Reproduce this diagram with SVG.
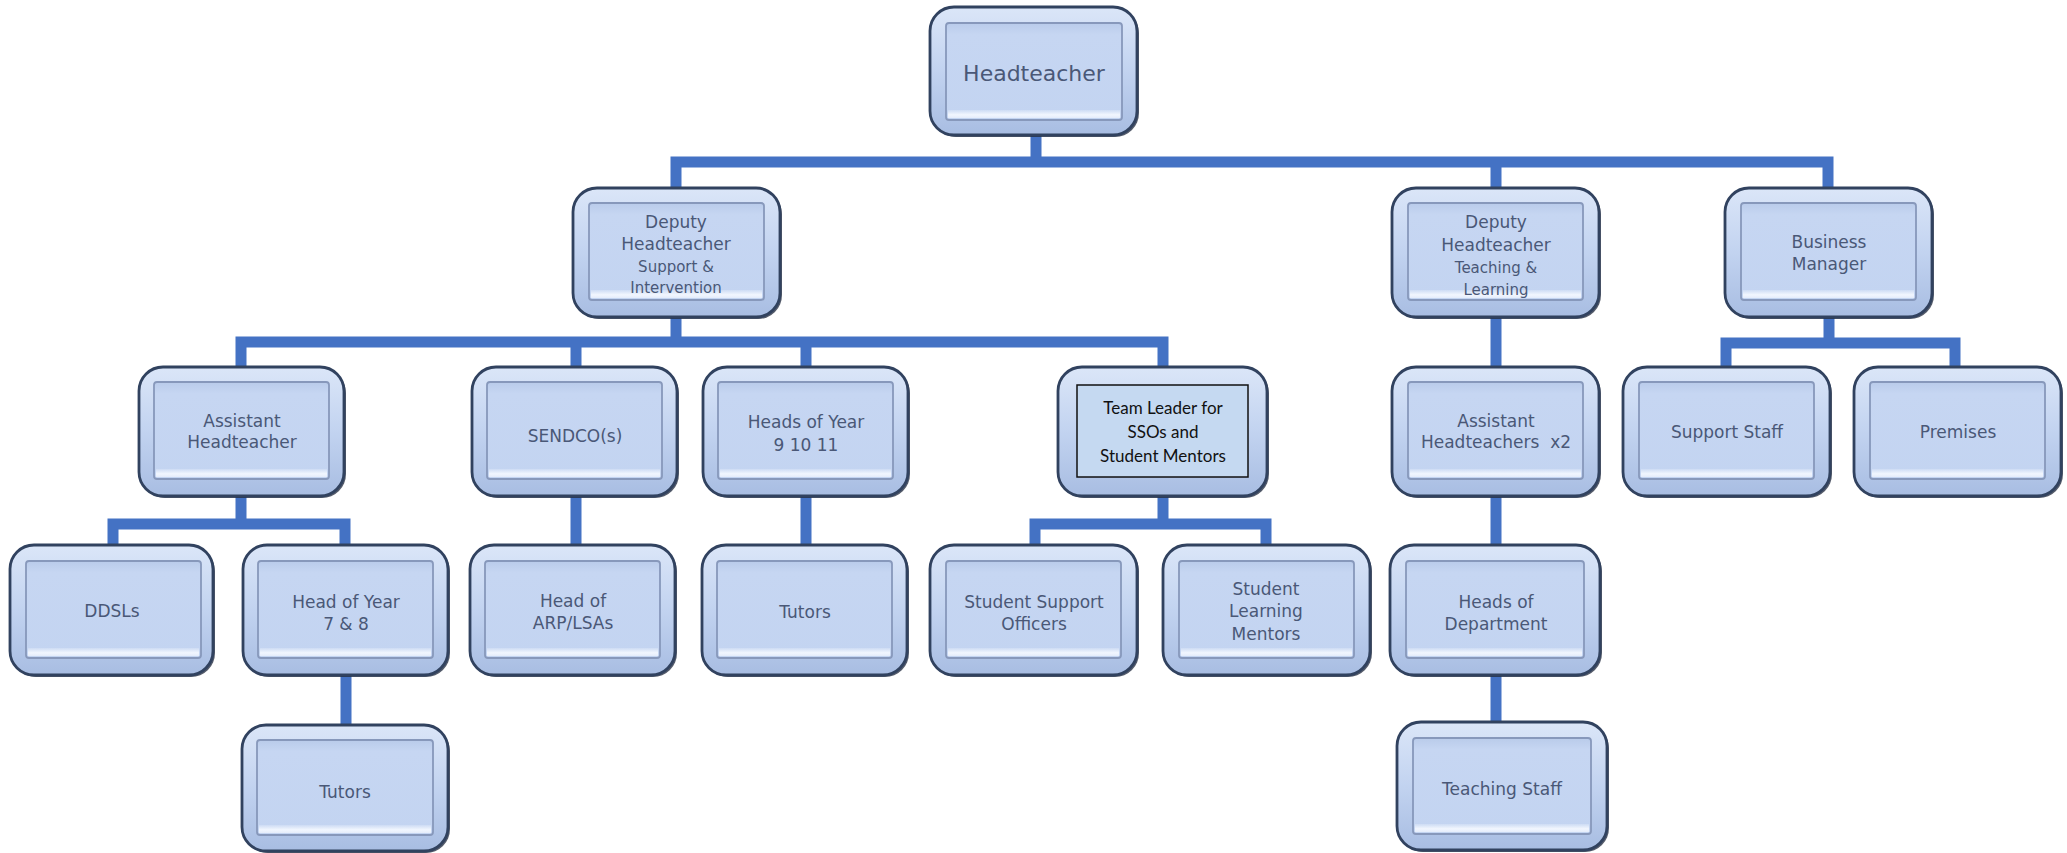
<svg xmlns="http://www.w3.org/2000/svg" width="2067" height="853" viewBox="0 0 2067 853">
<defs>
<linearGradient id="og" x1="0" y1="0" x2="0" y2="1">
<stop offset="0" stop-color="#dbe6f8"/>
<stop offset="0.5" stop-color="#c2d3f0"/>
<stop offset="1" stop-color="#a8bde2"/>
</linearGradient>
<linearGradient id="ig" x1="0" y1="0" x2="0" y2="1">
<stop offset="0" stop-color="#b9cbea"/>
<stop offset="0.12" stop-color="#c6d6f2"/>
<stop offset="1" stop-color="#c3d4f1"/>
</linearGradient>
<linearGradient id="hg" x1="0" y1="0" x2="0" y2="1">
<stop offset="0" stop-color="#f4f8ff" stop-opacity="0.2"/>
<stop offset="0.6" stop-color="#f4f8ff" stop-opacity="0.95"/>
<stop offset="1" stop-color="#e8effc" stop-opacity="0.9"/>
</linearGradient>
</defs>
<style>
.sh{fill:#1b2438;opacity:0.75}
.o{fill:url(#og);stroke:#31425f;stroke-width:2.8}
.i{fill:url(#ig);stroke:#8798bb;stroke-width:1.8}
.hl{fill:url(#hg)}
.t{font-family:"DejaVu Sans",Verdana,sans-serif;font-size:17px;fill:#4a5877;text-anchor:middle}
.s{font-size:15px}
.big{font-size:22px}
.c{fill:none;stroke:#4472c4;stroke-width:11;stroke-linecap:square;stroke-linejoin:miter}
.tl{font-family:Lato,"Liberation Sans",sans-serif;font-size:17px;fill:#111;text-anchor:middle}
</style>
<rect width="2067" height="853" fill="#ffffff"/>
<g id="connectors">
<path class="c" d="M1036 135 V162 M676 188 V162 H1828 V188 M1496 162 V188"/>
<path class="c" d="M676 317 V342 M241 367 V342 H1163 V367 M576 342 V367 M806 342 V367"/>
<path class="c" d="M1496 317 V367 M1496 497 V545 M1496 675 V722"/>
<path class="c" d="M1829 317 V343 M1726 367 V343 H1955 V367"/>
<path class="c" d="M241 497 V524 M113 545 V524 H345 V545 M346 675 V725"/>
<path class="c" d="M576 497 V545 M806 497 V545"/>
<path class="c" d="M1163 497 V524 M1035 545 V524 H1266 V545"/>
</g>
<g id="headteacher">
<rect class="sh" x="932" y="9" width="207" height="128" rx="24"/>
<rect class="o" x="930" y="7" width="207" height="128" rx="24"/>
<rect class="i" x="946" y="23" width="176" height="97" rx="3"/>
<rect class="hl" x="948" y="110" width="172" height="8"/>
<text class="t big" x="1034" y="81">Headteacher</text>
</g>
<g id="deputy-si">
<rect class="sh" x="575" y="190" width="207" height="129" rx="24"/>
<rect class="o" x="573" y="188" width="207" height="129" rx="24"/>
<rect class="i" x="589" y="203" width="175" height="97" rx="3"/>
<rect class="hl" x="591" y="290" width="171" height="8"/>
<text class="t" x="676" y="228">Deputy</text>
<text class="t" x="676" y="250">Headteacher</text>
<text class="t s" x="676" y="272">Support &amp;</text>
<text class="t s" x="676" y="293">Intervention</text>
</g>
<g id="deputy-tl">
<rect class="sh" x="1394" y="190" width="207" height="129" rx="24"/>
<rect class="o" x="1392" y="188" width="207" height="129" rx="24"/>
<rect class="i" x="1408" y="203" width="175" height="97" rx="3"/>
<rect class="hl" x="1410" y="290" width="171" height="8"/>
<text class="t" x="1496" y="228">Deputy</text>
<text class="t" x="1496" y="251">Headteacher</text>
<text class="t s" x="1496" y="273">Teaching &amp;</text>
<text class="t s" x="1496" y="295">Learning</text>
</g>
<g id="business-manager">
<rect class="sh" x="1727" y="190" width="207" height="129" rx="24"/>
<rect class="o" x="1725" y="188" width="207" height="129" rx="24"/>
<rect class="i" x="1741" y="203" width="175" height="97" rx="3"/>
<rect class="hl" x="1743" y="290" width="171" height="8"/>
<text class="t" x="1829" y="248">Business</text>
<text class="t" x="1829" y="270">Manager</text>
</g>
<g id="assistant-head">
<rect class="sh" x="141" y="369" width="205" height="129" rx="24"/>
<rect class="o" x="139" y="367" width="205" height="129" rx="24"/>
<rect class="i" x="154" y="382" width="175" height="97" rx="3"/>
<rect class="hl" x="156" y="469" width="171" height="8"/>
<text class="t" x="242" y="427">Assistant</text>
<text class="t" x="242" y="448">Headteacher</text>
</g>
<g id="sendco">
<rect class="sh" x="474" y="369" width="205" height="129" rx="24"/>
<rect class="o" x="472" y="367" width="205" height="129" rx="24"/>
<rect class="i" x="487" y="382" width="175" height="97" rx="3"/>
<rect class="hl" x="489" y="469" width="171" height="8"/>
<text class="t" x="575" y="442">SENDCO(s)</text>
</g>
<g id="heads-of-year-9-11">
<rect class="sh" x="705" y="369" width="205" height="129" rx="24"/>
<rect class="o" x="703" y="367" width="205" height="129" rx="24"/>
<rect class="i" x="718" y="382" width="175" height="97" rx="3"/>
<rect class="hl" x="720" y="469" width="171" height="8"/>
<text class="t" x="806" y="428">Heads of Year</text>
<text class="t" x="806" y="451">9 10 11</text>
</g>
<g id="team-leader">
<rect class="sh" x="1060" y="369" width="209" height="129" rx="24"/>
<rect class="o" x="1058" y="367" width="209" height="129" rx="24"/>
<rect x="1077" y="385" width="171" height="92" fill="#c5d9f1" stroke="#111" stroke-width="1.5"/>
<text class="tl" x="1163" y="414">Team Leader for</text>
<text class="tl" x="1163" y="438">SSOs and</text>
<text class="tl" x="1163" y="462">Student Mentors</text>
</g>
<g id="assistant-heads-x2">
<rect class="sh" x="1394" y="369" width="207" height="129" rx="24"/>
<rect class="o" x="1392" y="367" width="207" height="129" rx="24"/>
<rect class="i" x="1408" y="382" width="175" height="97" rx="3"/>
<rect class="hl" x="1410" y="469" width="171" height="8"/>
<text class="t" x="1496" y="427">Assistant</text>
<text class="t" x="1496" y="448" xml:space="preserve">Headteachers  x2</text>
</g>
<g id="support-staff">
<rect class="sh" x="1625" y="369" width="207" height="129" rx="24"/>
<rect class="o" x="1623" y="367" width="207" height="129" rx="24"/>
<rect class="i" x="1639" y="382" width="175" height="97" rx="3"/>
<rect class="hl" x="1641" y="469" width="171" height="8"/>
<text class="t" x="1727" y="438">Support Staff</text>
</g>
<g id="premises">
<rect class="sh" x="1856" y="369" width="207" height="129" rx="24"/>
<rect class="o" x="1854" y="367" width="207" height="129" rx="24"/>
<rect class="i" x="1870" y="382" width="175" height="97" rx="3"/>
<rect class="hl" x="1872" y="469" width="171" height="8"/>
<text class="t" x="1958" y="438">Premises</text>
</g>
<g id="ddsls">
<rect class="sh" x="12" y="547" width="203" height="130" rx="24"/>
<rect class="o" x="10" y="545" width="203" height="130" rx="24"/>
<rect class="i" x="26" y="561" width="175" height="97" rx="3"/>
<rect class="hl" x="28" y="648" width="171" height="8"/>
<text class="t" x="112" y="617">DDSLs</text>
</g>
<g id="head-of-year-7-8">
<rect class="sh" x="245" y="547" width="205" height="130" rx="24"/>
<rect class="o" x="243" y="545" width="205" height="130" rx="24"/>
<rect class="i" x="258" y="561" width="175" height="97" rx="3"/>
<rect class="hl" x="260" y="648" width="171" height="8"/>
<text class="t" x="346" y="608">Head of Year</text>
<text class="t" x="346" y="630">7 &amp; 8</text>
</g>
<g id="head-of-arp">
<rect class="sh" x="472" y="547" width="205" height="130" rx="24"/>
<rect class="o" x="470" y="545" width="205" height="130" rx="24"/>
<rect class="i" x="485" y="561" width="175" height="97" rx="3"/>
<rect class="hl" x="487" y="648" width="171" height="8"/>
<text class="t" x="573" y="607">Head of</text>
<text class="t" x="573" y="629">ARP/LSAs</text>
</g>
<g id="tutors-9-11">
<rect class="sh" x="704" y="547" width="205" height="130" rx="24"/>
<rect class="o" x="702" y="545" width="205" height="130" rx="24"/>
<rect class="i" x="717" y="561" width="175" height="97" rx="3"/>
<rect class="hl" x="719" y="648" width="171" height="8"/>
<text class="t" x="805" y="618">Tutors</text>
</g>
<g id="student-support-officers">
<rect class="sh" x="932" y="547" width="207" height="130" rx="24"/>
<rect class="o" x="930" y="545" width="207" height="130" rx="24"/>
<rect class="i" x="946" y="561" width="175" height="97" rx="3"/>
<rect class="hl" x="948" y="648" width="171" height="8"/>
<text class="t" x="1034" y="608">Student Support</text>
<text class="t" x="1034" y="630">Officers</text>
</g>
<g id="student-learning-mentors">
<rect class="sh" x="1165" y="547" width="207" height="130" rx="24"/>
<rect class="o" x="1163" y="545" width="207" height="130" rx="24"/>
<rect class="i" x="1179" y="561" width="175" height="97" rx="3"/>
<rect class="hl" x="1181" y="648" width="171" height="8"/>
<text class="t" x="1266" y="595">Student</text>
<text class="t" x="1266" y="617">Learning</text>
<text class="t" x="1266" y="640">Mentors</text>
</g>
<g id="heads-of-department">
<rect class="sh" x="1392" y="547" width="210" height="130" rx="24"/>
<rect class="o" x="1390" y="545" width="210" height="130" rx="24"/>
<rect class="i" x="1406" y="561" width="178" height="97" rx="3"/>
<rect class="hl" x="1408" y="648" width="174" height="8"/>
<text class="t" x="1496" y="608">Heads of</text>
<text class="t" x="1496" y="630">Department</text>
</g>
<g id="tutors-7-8">
<rect class="sh" x="244" y="727" width="206" height="126" rx="24"/>
<rect class="o" x="242" y="725" width="206" height="126" rx="24"/>
<rect class="i" x="257" y="740" width="176" height="95" rx="3"/>
<rect class="hl" x="259" y="825" width="172" height="8"/>
<text class="t" x="345" y="798">Tutors</text>
</g>
<g id="teaching-staff">
<rect class="sh" x="1399" y="724" width="210" height="128" rx="24"/>
<rect class="o" x="1397" y="722" width="210" height="128" rx="24"/>
<rect class="i" x="1413" y="738" width="178" height="96" rx="3"/>
<rect class="hl" x="1415" y="824" width="174" height="8"/>
<text class="t" x="1502" y="795">Teaching Staff</text>
</g>
</svg>
